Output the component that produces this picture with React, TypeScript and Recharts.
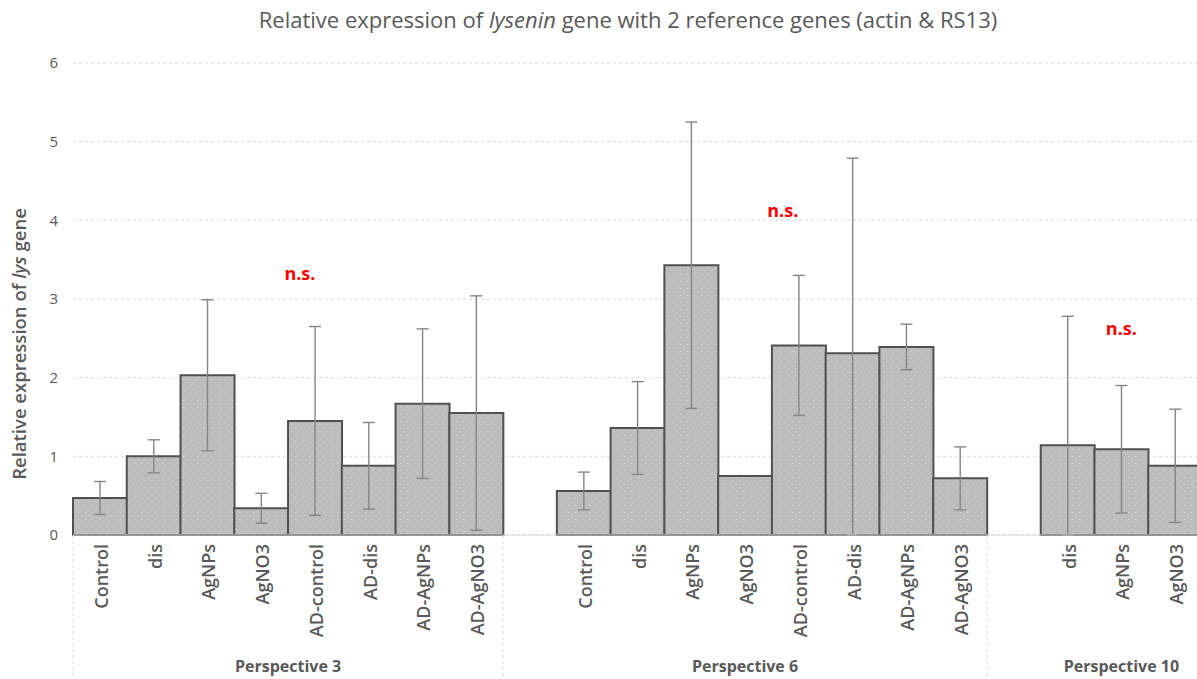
import React from 'react';
import {
    BarChart,
    Bar,
    XAxis,
    YAxis,
    CartesianGrid,
    ErrorBar,
    ReferenceDot,
} from 'recharts';

// Sample names per slot ('' = spacer between perspectives)
const categories = [
    'Control', 'dis', 'AgNPs', 'AgNO3', 'AD-control', 'AD-dis', 'AD-AgNPs', 'AD-AgNO3',
    '',
    'Control', 'dis', 'AgNPs', 'AgNO3', 'AD-control', 'AD-dis', 'AD-AgNPs', 'AD-AgNO3',
    '',
    'dis', 'AgNPs', 'AgNO3',
];

// Relative expression (mean) and its error
const means = [
    0.47, 1.0, 2.03, 0.34, 1.45, 0.88, 1.67, 1.55,
    null,
    0.56, 1.36, 3.43, 0.75, 2.41, 2.31, 2.39, 0.72,
    null,
    1.14, 1.09, 0.88,
];
const errors = [
    0.21, 0.21, 0.96, 0.19, 1.2, 0.55, 0.95, 1.49,
    null,
    0.24, 0.59, 1.82, null, 0.89, 2.48, 0.29, 0.4,
    null,
    1.64, 0.81, 0.72,
];

// Perspective groups (slot range used for the divider and centred label)
const groups = [
    { label: 'Perspective 3', from: 0, to: 7 },
    { label: 'Perspective 6', from: 8, to: 16 },
    { label: 'Perspective 10', from: 17, to: 21 },
];

const yTicks = [0, 1, 2, 3, 4, 5, 6];

// "n.s." annotations: slot index, height in data units, horizontal nudge
const nsMarks = [
    { index: 4, y: 3.33, dx: -15 },
    { index: 13, y: 4.13, dx: -16 },
    { index: 19, y: 2.63, dx: 0 },
];

const data = categories.map((name, i) => {
    const m = means[i];
    const e = errors[i];
    return {
        key: `s${i}`,
        name,
        value: m,
        // excel clips the lower whisker at the axis
        err: m == null || e == null ? null : [Math.min(e, m), e],
    };
});

const TEXT = '#595959';
const GRID = '#d9d9d9';
const CHART_W = 1202;
const CHART_H = 679;
const Y_AXIS_W = 73;
const BAND = (CHART_W - Y_AXIS_W) / categories.length;

const XTick: React.FC<any> = ({ x, y, payload, index }) => {
    const band = payload && payload.offset ? payload.offset * 2 : BAND;
    const label = categories[index] ?? '';
    const start = groups.find((g) => g.from === index);
    return (
        <g>
            {label && (
                <text
                    transform={`translate(${x + 1}, ${y + 9}) rotate(-90)`}
                    textAnchor="end"
                    dominantBaseline="central"
                    fill={TEXT}
                    fontSize={18}
                    fontWeight={600}
                >
                    {label}
                </text>
            )}
            {start && (
                <>
                    <line
                        x1={x - band / 2}
                        x2={x - band / 2}
                        y1={y}
                        y2={CHART_H}
                        stroke={GRID}
                        strokeDasharray="3 3"
                    />
                    <text
                        x={x + ((start.to - start.from) / 2) * band}
                        y={y + 131}
                        textAnchor="middle"
                        dominantBaseline="central"
                        fill={TEXT}
                        fontSize={16}
                        fontWeight={700}
                    >
                        {start.label}
                    </text>
                </>
            )}
        </g>
    );
};

const YLabel = () => (
    <text
        x={18}
        y={344}
        transform="rotate(-90, 18, 344)"
        textAnchor="middle"
        dominantBaseline="central"
        fill={TEXT}
        fontSize={18.5}
        fontWeight={600}
    >
        Relative expression of <tspan fontStyle="italic">lys</tspan> gene
    </text>
);

export default function App() {
    return (
        <div
            style={{
                position: 'absolute',
                left: 0,
                top: 0,
                width: 1197,
                height: 679,
                overflow: 'hidden',
                background: '#fff',
                fontFamily: "'Open Sans', sans-serif",
            }}
        >
            <div
                style={{
                    position: 'absolute',
                    left: 0,
                    top: 4,
                    width: 1256,
                    textAlign: 'center',
                    fontSize: 22,
                    color: TEXT,
                    lineHeight: '30px',
                }}
            >
                Relative expression of <i>lysenin</i> gene with 2 reference genes (actin &amp; RS13)
            </div>
            <BarChart
                width={CHART_W}
                height={CHART_H}
                data={data}
                margin={{ top: 63, right: 0, left: 0, bottom: 0 }}
                barCategoryGap={0}
                barGap={0}
            >
                <defs>
                    <pattern id="dotFill" width="7" height="7" patternUnits="userSpaceOnUse">
                        <rect width="7" height="7" fill="#bcbcbc" />
                        <circle cx="1.5" cy="1.5" r="0.6" fill="#dedede" />
                        <circle cx="5" cy="4.5" r="0.6" fill="#d6d6d6" />
                        <circle cx="3" cy="6" r="0.5" fill="#d2d2d2" />
                    </pattern>
                </defs>

                <CartesianGrid
                    vertical={false}
                    stroke={GRID}
                    strokeDasharray="3 3"
                />

                <XAxis
                    dataKey="key"
                    interval={0}
                    height={144}
                    tickSize={0}
                    tickMargin={0}
                    tickLine={false}
                    axisLine={{ stroke: GRID }}
                    tick={<XTick />}
                />

                <YAxis
                    domain={[0, 6]}
                    ticks={yTicks}
                    width={Y_AXIS_W}
                    axisLine={false}
                    tickLine={false}
                    tickSize={6}
                    tickMargin={9}
                    tick={{ fill: TEXT, fontSize: 15 }}
                    label={{ content: <YLabel /> }}
                />

                <Bar
                    dataKey="value"
                    fill="url(#dotFill)"
                    stroke="#505050"
                    strokeWidth={2}
                    isAnimationActive={false}
                >
                    <ErrorBar
                        dataKey="err"
                        direction="y"
                        width={6}
                        stroke="#858585"
                        strokeWidth={1.4}
                        isAnimationActive={false}
                    />
                </Bar>

                {nsMarks.map((m) => (
                    <ReferenceDot
                        key={m.index}
                        x={data[m.index].key}
                        y={m.y}
                        r={1}
                        shape={(p: any) => (
                            <text
                                x={p.cx + m.dx}
                                y={p.cy}
                                textAnchor="middle"
                                dominantBaseline="central"
                                fill="#ff0000"
                                fontSize={18}
                                fontWeight={700}
                            >
                                n.s.
                            </text>
                        )}
                    />
                ))}
            </BarChart>
        </div>
    );
}
